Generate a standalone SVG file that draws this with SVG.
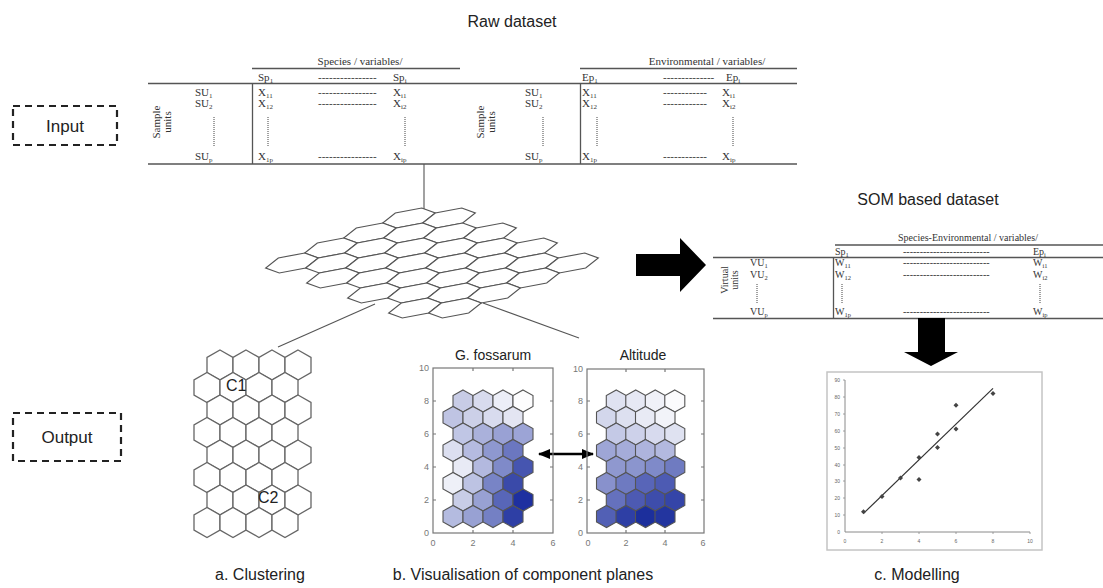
<svg xmlns="http://www.w3.org/2000/svg" xmlns:xlink="http://www.w3.org/1999/xlink" width="1103" height="588" viewBox="0 0 1103 588">
<style>
.sans{font-family:"Liberation Sans",Arial,sans-serif;fill:#222}
.ser{font-family:"Liberation Serif","Times New Roman",serif;fill:#333;font-size:11px}
.ser10{font-family:"Liberation Serif","Times New Roman",serif;fill:#333;font-size:10px}
.tl{stroke:#555;stroke-width:1.3;fill:none}
.dot{stroke:#444;stroke-width:1;stroke-dasharray:1,1;fill:none}
.conn{stroke:#555;stroke-width:1.1;fill:none}
.dash{fill:none;stroke:#222;stroke-width:2.2;stroke-dasharray:7,5}
.hx{fill:#fff;stroke:#666;stroke-width:1.3}
.ph{fill:#fff;stroke:#555;stroke-width:1.2}
.ch{stroke:#555;stroke-width:1.1}
.ax{fill:none;stroke:#777;stroke-width:1.2}
.tk{font-family:"Liberation Sans",Arial,sans-serif;font-size:9px;fill:#777}
.tk5{font-family:"Liberation Sans",Arial,sans-serif;font-size:5px;fill:#666}
</style>
<defs>
<polygon id="hx" points="0,-15 13,-7.5 13,7.5 0,15 -13,7.5 -13,-7.5"/>
<polygon id="ph" points="12.7,-10 26.3,-5 13.7,5 -12.7,10 -26.3,5 -13.7,-5"/>
<polygon id="ch" points="0,-11 10,-5.5 10,5.5 0,11 -10,5.5 -10,-5.5"/>
<polygon id="pt" points="0,-2.5 2.5,0 0,2.5 -2.5,0"/>
<marker id="ah" viewBox="0 0 10 10" refX="9" refY="5" markerWidth="5" markerHeight="5" orient="auto-start-reverse" markerUnits="strokeWidth"><path d="M0,1 L10,5 L0,9 Z" fill="#000"/></marker>
</defs>

<g id="labels-io">
<g id="input"><rect class="dash" x="13" y="106" width="104" height="39"/><text class="sans" x="65" y="132" font-size="17" text-anchor="middle">Input</text></g>
<g id="output"><rect class="dash" x="13" y="413" width="108" height="48"/><text class="sans" x="67" y="443" font-size="17" text-anchor="middle">Output</text></g>
</g>

<g id="raw-dataset">
<text class="sans" x="512" y="27" font-size="16" text-anchor="middle">Raw dataset</text>
<line class="tl" x1="252" y1="68.5" x2="460" y2="68.5"/>
<line class="tl" x1="580" y1="68.5" x2="797" y2="68.5"/>
<line class="tl" x1="148" y1="83.5" x2="797" y2="83.5"/>
<line class="tl" x1="148" y1="164" x2="797" y2="164"/>
<line class="tl" x1="252.5" y1="83.5" x2="252.5" y2="164"/>
<line class="tl" x1="580.5" y1="83.5" x2="580.5" y2="164"/>
<text class="ser" x="360" y="65" text-anchor="middle">Species / variables/</text>
<text class="ser" x="258" y="81">Sp<tspan font-size="7" dy="2">1</tspan></text>
<text class="ser" x="318" y="81">----------------</text>
<text class="ser" x="393" y="81">Sp<tspan font-size="7" dy="2">i</tspan></text>
<g transform="translate(160,122) rotate(-90)"><text class="ser" x="0" y="0" text-anchor="middle">Sample</text><text class="ser" x="0" y="11" text-anchor="middle">units</text></g>
<text class="ser" x="195" y="96">SU<tspan font-size="7" dy="2">1</tspan></text>
<text class="ser" x="195" y="107">SU<tspan font-size="7" dy="2">2</tspan></text>
<text class="ser" x="195" y="160">SU<tspan font-size="7" dy="2">p</tspan></text>
<line class="dot" x1="214" y1="117" x2="214" y2="146"/>
<text class="ser" x="258" y="96">X<tspan font-size="7" dy="2">11</tspan></text>
<text class="ser" x="258" y="107">X<tspan font-size="7" dy="2">12</tspan></text>
<text class="ser" x="258" y="160">X<tspan font-size="7" dy="2">1p</tspan></text>
<line class="dot" x1="268" y1="117" x2="268" y2="146"/>
<text class="ser" x="318" y="96">----------------</text>
<text class="ser" x="318" y="107">----------------</text>
<text class="ser" x="318" y="160">----------------</text>
<text class="ser" x="393" y="96">X<tspan font-size="7" dy="2">i1</tspan></text>
<text class="ser" x="393" y="107">X<tspan font-size="7" dy="2">i2</tspan></text>
<text class="ser" x="393" y="160">X<tspan font-size="7" dy="2">ip</tspan></text>
<line class="dot" x1="405" y1="117" x2="405" y2="146"/>

<text class="ser" x="707" y="65" text-anchor="middle">Environmental / variables/</text>
<text class="ser" x="582" y="81">Ep<tspan font-size="7" dy="2">1</tspan></text>
<text class="ser" x="663" y="81">--------------</text>
<text class="ser" x="726" y="81">Ep<tspan font-size="7" dy="2">i</tspan></text>
<g transform="translate(484,122) rotate(-90)"><text class="ser" x="0" y="0" text-anchor="middle">Sample</text><text class="ser" x="0" y="11" text-anchor="middle">units</text></g>
<text class="ser" x="525" y="96">SU<tspan font-size="7" dy="2">1</tspan></text>
<text class="ser" x="525" y="107">SU<tspan font-size="7" dy="2">2</tspan></text>
<text class="ser" x="525" y="160">SU<tspan font-size="7" dy="2">p</tspan></text>
<line class="dot" x1="543" y1="117" x2="543" y2="146"/>
<text class="ser" x="582" y="96">X<tspan font-size="7" dy="2">11</tspan></text>
<text class="ser" x="582" y="107">X<tspan font-size="7" dy="2">12</tspan></text>
<text class="ser" x="582" y="160">X<tspan font-size="7" dy="2">1p</tspan></text>
<line class="dot" x1="597" y1="117" x2="597" y2="146"/>
<text class="ser" x="663" y="96">------------</text>
<text class="ser" x="663" y="107">------------</text>
<text class="ser" x="663" y="160">------------</text>
<text class="ser" x="722" y="96">X<tspan font-size="7" dy="2">i1</tspan></text>
<text class="ser" x="722" y="107">X<tspan font-size="7" dy="2">i2</tspan></text>
<text class="ser" x="722" y="160">X<tspan font-size="7" dy="2">ip</tspan></text>
<line class="dot" x1="733" y1="117" x2="733" y2="146"/>
</g>

<g id="som-dataset">
<text class="sans" x="928" y="205" font-size="16" text-anchor="middle">SOM based dataset</text>
<line class="tl" x1="835" y1="245" x2="1103" y2="245"/>
<line class="tl" x1="713" y1="257.5" x2="1103" y2="257.5"/>
<line class="tl" x1="713" y1="318.5" x2="1103" y2="318.5"/>
<line class="tl" x1="833.5" y1="257.5" x2="833.5" y2="318.5"/>
<text class="ser10" x="968" y="241" text-anchor="middle">Species-Environmental / variables/</text>
<text class="ser10" x="835" y="255">Sp<tspan font-size="6.5" dy="2">1</tspan></text>
<text class="ser10" x="903" y="255">--------------------------</text>
<text class="ser10" x="1033" y="255">Ep<tspan font-size="6.5" dy="2">i</tspan></text>
<g transform="translate(728,280) rotate(-90)"><text class="ser10" x="0" y="0" text-anchor="middle">Virtual</text><text class="ser10" x="0" y="10" text-anchor="middle">units</text></g>
<text class="ser10" x="750" y="266">VU<tspan font-size="6.5" dy="2">1</tspan></text>
<text class="ser10" x="750" y="278">VU<tspan font-size="6.5" dy="2">2</tspan></text>
<text class="ser10" x="750" y="315">VU<tspan font-size="6.5" dy="2">p</tspan></text>
<line class="dot" x1="757" y1="284" x2="757" y2="303"/>
<text class="ser10" x="835" y="266">W<tspan font-size="6.5" dy="2">11</tspan></text>
<text class="ser10" x="835" y="278">W<tspan font-size="6.5" dy="2">12</tspan></text>
<text class="ser10" x="835" y="315">W<tspan font-size="6.5" dy="2">1p</tspan></text>
<line class="dot" x1="842" y1="284" x2="842" y2="303"/>
<text class="ser10" x="903" y="266">--------------------------</text>
<text class="ser10" x="903" y="278">--------------------------</text>
<text class="ser10" x="903" y="315">--------------------------</text>
<text class="ser10" x="1033" y="266">W<tspan font-size="6.5" dy="2">i1</tspan></text>
<text class="ser10" x="1033" y="278">W<tspan font-size="6.5" dy="2">i2</tspan></text>
<text class="ser10" x="1033" y="315">W<tspan font-size="6.5" dy="2">ip</tspan></text>
<line class="dot" x1="1040" y1="284" x2="1040" y2="303"/>
</g>

<g id="connectors">
<line class="conn" x1="424" y1="164" x2="424" y2="213"/>
<line class="conn" x1="375" y1="304" x2="278" y2="347"/>
<line class="conn" x1="483" y1="303" x2="579" y2="338"/>
<polygon points="636,254 680,254 680,238 706,265 680,292 680,276 636,276" fill="#000"/>
<polygon points="918,318 945,318 945,352 958,352 931,366 904,352 918,352" fill="#000"/>
<line x1="539" y1="454" x2="593" y2="454" stroke="#000" stroke-width="2.5" marker-start="url(#ah)" marker-end="url(#ah)"/>
</g>

<g id="som-grid">
<use href="#ph" class="ph" x="409" y="218"/><use href="#ph" class="ph" x="449" y="218"/>
<use href="#ph" class="ph" x="370" y="233"/><use href="#ph" class="ph" x="410" y="233"/><use href="#ph" class="ph" x="450" y="233"/><use href="#ph" class="ph" x="490" y="233"/>
<use href="#ph" class="ph" x="331" y="248"/><use href="#ph" class="ph" x="371" y="248"/><use href="#ph" class="ph" x="411" y="248"/><use href="#ph" class="ph" x="451" y="248"/><use href="#ph" class="ph" x="491" y="248"/><use href="#ph" class="ph" x="531" y="248"/>
<use href="#ph" class="ph" x="292" y="263"/><use href="#ph" class="ph" x="332" y="263"/><use href="#ph" class="ph" x="372" y="263"/><use href="#ph" class="ph" x="412" y="263"/><use href="#ph" class="ph" x="452" y="263"/><use href="#ph" class="ph" x="492" y="263"/><use href="#ph" class="ph" x="532" y="263"/><use href="#ph" class="ph" x="572" y="263"/>
<use href="#ph" class="ph" x="333" y="278"/><use href="#ph" class="ph" x="373" y="278"/><use href="#ph" class="ph" x="413" y="278"/><use href="#ph" class="ph" x="453" y="278"/><use href="#ph" class="ph" x="493" y="278"/><use href="#ph" class="ph" x="533" y="278"/>
<use href="#ph" class="ph" x="374" y="293"/><use href="#ph" class="ph" x="414" y="293"/><use href="#ph" class="ph" x="454" y="293"/><use href="#ph" class="ph" x="494" y="293"/>
<use href="#ph" class="ph" x="415" y="308"/><use href="#ph" class="ph" x="455" y="308"/>
</g>

<g id="clustering">
<use href="#hx" class="hx" x="220" y="365"/><use href="#hx" class="hx" x="246" y="365"/><use href="#hx" class="hx" x="272" y="365"/><use href="#hx" class="hx" x="298" y="365"/>
<use href="#hx" class="hx" x="207" y="387.5"/><use href="#hx" class="hx" x="233" y="387.5"/><use href="#hx" class="hx" x="259" y="387.5"/><use href="#hx" class="hx" x="285" y="387.5"/>
<use href="#hx" class="hx" x="220" y="410"/><use href="#hx" class="hx" x="246" y="410"/><use href="#hx" class="hx" x="272" y="410"/><use href="#hx" class="hx" x="298" y="410"/>
<use href="#hx" class="hx" x="207" y="432.5"/><use href="#hx" class="hx" x="233" y="432.5"/><use href="#hx" class="hx" x="259" y="432.5"/><use href="#hx" class="hx" x="285" y="432.5"/>
<use href="#hx" class="hx" x="220" y="455"/><use href="#hx" class="hx" x="246" y="455"/><use href="#hx" class="hx" x="272" y="455"/><use href="#hx" class="hx" x="298" y="455"/>
<use href="#hx" class="hx" x="207" y="477.5"/><use href="#hx" class="hx" x="233" y="477.5"/><use href="#hx" class="hx" x="259" y="477.5"/><use href="#hx" class="hx" x="285" y="477.5"/>
<use href="#hx" class="hx" x="220" y="500"/><use href="#hx" class="hx" x="246" y="500"/><use href="#hx" class="hx" x="272" y="500"/><use href="#hx" class="hx" x="298" y="500"/>
<use href="#hx" class="hx" x="207" y="522.5"/><use href="#hx" class="hx" x="233" y="522.5"/><use href="#hx" class="hx" x="259" y="522.5"/><use href="#hx" class="hx" x="285" y="522.5"/>
<text class="sans" x="226" y="391" font-size="16">C1</text>
<text class="sans" x="258" y="503" font-size="16">C2</text>
<text class="sans" x="260" y="580" font-size="16" text-anchor="middle">a. Clustering</text>
</g>

<g id="plane-gfossarum">
<text class="sans" x="493" y="360" font-size="14" text-anchor="middle">G. fossarum</text>
<rect class="ax" x="433" y="368" width="120" height="165"/>
<path class="ax" d="M473,533v-3M513,533v-3M473,368v3M513,368v3M433,500h3M433,467h3M433,434h3M433,401h3M553,500h-3M553,467h-3M553,434h-3M553,401h-3"/>
<text class="tk" x="429" y="371" text-anchor="end">10</text><text class="tk" x="429" y="404" text-anchor="end">8</text><text class="tk" x="429" y="437" text-anchor="end">6</text><text class="tk" x="429" y="470" text-anchor="end">4</text><text class="tk" x="429" y="503" text-anchor="end">2</text><text class="tk" x="429" y="536" text-anchor="end">0</text>
<text class="tk" x="433" y="546" text-anchor="middle">0</text><text class="tk" x="473" y="546" text-anchor="middle">2</text><text class="tk" x="513" y="546" text-anchor="middle">4</text><text class="tk" x="553" y="546" text-anchor="middle">6</text>
<use href="#ch" class="ch" x="463" y="401" fill="#c8cce6"/><use href="#ch" class="ch" x="483" y="401" fill="#d8dbee"/><use href="#ch" class="ch" x="503" y="401" fill="#eceef7"/><use href="#ch" class="ch" x="523" y="401" fill="#fdfdfe"/>
<use href="#ch" class="ch" x="453" y="417.5" fill="#bfc4e3"/><use href="#ch" class="ch" x="473" y="417.5" fill="#ccd0e8"/><use href="#ch" class="ch" x="493" y="417.5" fill="#d8dbee"/><use href="#ch" class="ch" x="513" y="417.5" fill="#e3e5f2"/>
<use href="#ch" class="ch" x="463" y="434" fill="#c0c6e5"/><use href="#ch" class="ch" x="483" y="434" fill="#aab1db"/><use href="#ch" class="ch" x="503" y="434" fill="#99a1d4"/><use href="#ch" class="ch" x="523" y="434" fill="#9ca4d6"/>
<use href="#ch" class="ch" x="453" y="450.5" fill="#dcdff0"/><use href="#ch" class="ch" x="473" y="450.5" fill="#b5bbe0"/><use href="#ch" class="ch" x="493" y="450.5" fill="#8e98cf"/><use href="#ch" class="ch" x="513" y="450.5" fill="#6b77c0"/>
<use href="#ch" class="ch" x="463" y="467" fill="#e8eaf5"/><use href="#ch" class="ch" x="483" y="467" fill="#b3b9df"/><use href="#ch" class="ch" x="503" y="467" fill="#7f8ac9"/><use href="#ch" class="ch" x="523" y="467" fill="#4655b0"/>
<use href="#ch" class="ch" x="453" y="483.5" fill="#eef0f8"/><use href="#ch" class="ch" x="473" y="483.5" fill="#bdc3e3"/><use href="#ch" class="ch" x="493" y="483.5" fill="#7884c6"/><use href="#ch" class="ch" x="513" y="483.5" fill="#3a4aa9"/>
<use href="#ch" class="ch" x="463" y="500" fill="#c8cde7"/><use href="#ch" class="ch" x="483" y="500" fill="#98a1d3"/><use href="#ch" class="ch" x="503" y="500" fill="#5866b8"/><use href="#ch" class="ch" x="523" y="500" fill="#1e30a0"/>
<use href="#ch" class="ch" x="453" y="516.5" fill="#b4bbe0"/><use href="#ch" class="ch" x="473" y="516.5" fill="#98a1d3"/><use href="#ch" class="ch" x="493" y="516.5" fill="#7480c4"/><use href="#ch" class="ch" x="513" y="516.5" fill="#2e3fa5"/>
<text class="sans" x="523" y="580" font-size="16" text-anchor="middle">b. Visualisation of component planes</text>
</g>

<g id="plane-altitude">
<text class="sans" x="643" y="360" font-size="14" text-anchor="middle">Altitude</text>
<rect class="ax" x="587" y="369" width="117" height="164"/>
<path class="ax" d="M626,533v-3M665,533v-3M626,369v3M665,369v3M587,500h3M587,467h3M587,434h3M587,401h3M704,500h-3M704,467h-3M704,434h-3M704,401h-3"/>
<text class="tk" x="583" y="372" text-anchor="end">10</text><text class="tk" x="583" y="404" text-anchor="end">8</text><text class="tk" x="583" y="437" text-anchor="end">6</text><text class="tk" x="583" y="470" text-anchor="end">4</text><text class="tk" x="583" y="503" text-anchor="end">2</text><text class="tk" x="583" y="536" text-anchor="end">0</text>
<text class="tk" x="588" y="546" text-anchor="middle">0</text><text class="tk" x="626" y="546" text-anchor="middle">2</text><text class="tk" x="665" y="546" text-anchor="middle">4</text><text class="tk" x="703" y="546" text-anchor="middle">6</text>
<use href="#ch" class="ch" x="616.3" y="401" fill="#dfe2f1"/><use href="#ch" class="ch" x="635.8" y="401" fill="#e6e8f4"/><use href="#ch" class="ch" x="655.3" y="401" fill="#f0f1f8"/><use href="#ch" class="ch" x="674.8" y="401" fill="#fbfbfd"/>
<use href="#ch" class="ch" x="606.5" y="417.5" fill="#d3d7ec"/><use href="#ch" class="ch" x="626" y="417.5" fill="#dde0f0"/><use href="#ch" class="ch" x="645.5" y="417.5" fill="#e8eaf5"/><use href="#ch" class="ch" x="665" y="417.5" fill="#f2f3f9"/>
<use href="#ch" class="ch" x="616.3" y="434" fill="#c4c9e6"/><use href="#ch" class="ch" x="635.8" y="434" fill="#cdd1ea"/><use href="#ch" class="ch" x="655.3" y="434" fill="#d7daee"/><use href="#ch" class="ch" x="674.8" y="434" fill="#dfe2f1"/>
<use href="#ch" class="ch" x="606.5" y="450.5" fill="#9ea6d6"/><use href="#ch" class="ch" x="626" y="450.5" fill="#a5acd9"/><use href="#ch" class="ch" x="645.5" y="450.5" fill="#aeb4dd"/><use href="#ch" class="ch" x="665" y="450.5" fill="#b3b9df"/>
<use href="#ch" class="ch" x="616.3" y="467" fill="#8f98cf"/><use href="#ch" class="ch" x="635.8" y="467" fill="#8b95ce"/><use href="#ch" class="ch" x="655.3" y="467" fill="#7f8ac9"/><use href="#ch" class="ch" x="674.8" y="467" fill="#6f7bc1"/>
<use href="#ch" class="ch" x="606.5" y="483.5" fill="#8891cc"/><use href="#ch" class="ch" x="626" y="483.5" fill="#6e7ac1"/><use href="#ch" class="ch" x="645.5" y="483.5" fill="#5865b8"/><use href="#ch" class="ch" x="665" y="483.5" fill="#4d5bb3"/>
<use href="#ch" class="ch" x="616.3" y="500" fill="#6571bd"/><use href="#ch" class="ch" x="635.8" y="500" fill="#4d5ab2"/><use href="#ch" class="ch" x="655.3" y="500" fill="#3e4dab"/><use href="#ch" class="ch" x="674.8" y="500" fill="#3545a8"/>
<use href="#ch" class="ch" x="606.5" y="516.5" fill="#5260b5"/><use href="#ch" class="ch" x="626" y="516.5" fill="#2e3fa5"/><use href="#ch" class="ch" x="645.5" y="516.5" fill="#1c2f9c"/><use href="#ch" class="ch" x="665" y="516.5" fill="#23359f"/>
</g>

<g id="modelling">
<rect x="827" y="372" width="215" height="178" fill="#fff" stroke="#c4c4c4" stroke-width="1.5"/>
<path d="M845,380V532H1030" fill="none" stroke="#8a8a8a" stroke-width="1"/>
<path d="M845,380h-2M845,397h-2M845,414h-2M845,431h-2M845,448h-2M845,465h-2M845,481h-2M845,498h-2M845,515h-2M882,532v2M919,532v2M956,532v2M993,532v2M1030,532v2" stroke="#8a8a8a" stroke-width="0.8"/>
<g class="tk5" text-anchor="end">
<text x="840" y="382">90</text><text x="840" y="399">80</text><text x="840" y="416">70</text><text x="840" y="433">60</text><text x="840" y="450">50</text><text x="840" y="467">40</text><text x="840" y="483">30</text><text x="840" y="500">20</text><text x="840" y="517">10</text><text x="840" y="534">0</text>
</g>
<g class="tk5" text-anchor="middle">
<text x="845" y="543">0</text><text x="882" y="543">2</text><text x="919" y="543">4</text><text x="956" y="543">6</text><text x="993" y="543">8</text><text x="1030" y="543">10</text>
</g>
<line x1="863.5" y1="513.4" x2="993" y2="388.4" stroke="#333" stroke-width="1.2"/>
<g fill="#444">
<use href="#pt" x="863.5" y="511.7"/><use href="#pt" x="882" y="496.5"/><use href="#pt" x="900.5" y="477.9"/><use href="#pt" x="919" y="457.6"/><use href="#pt" x="919" y="479.6"/><use href="#pt" x="937.5" y="434"/><use href="#pt" x="937.5" y="447.5"/><use href="#pt" x="956" y="405.3"/><use href="#pt" x="956" y="428.9"/><use href="#pt" x="993" y="393.4"/>
</g>
<text class="sans" x="917" y="580" font-size="16" text-anchor="middle">c. Modelling</text>
</g>
</svg>
